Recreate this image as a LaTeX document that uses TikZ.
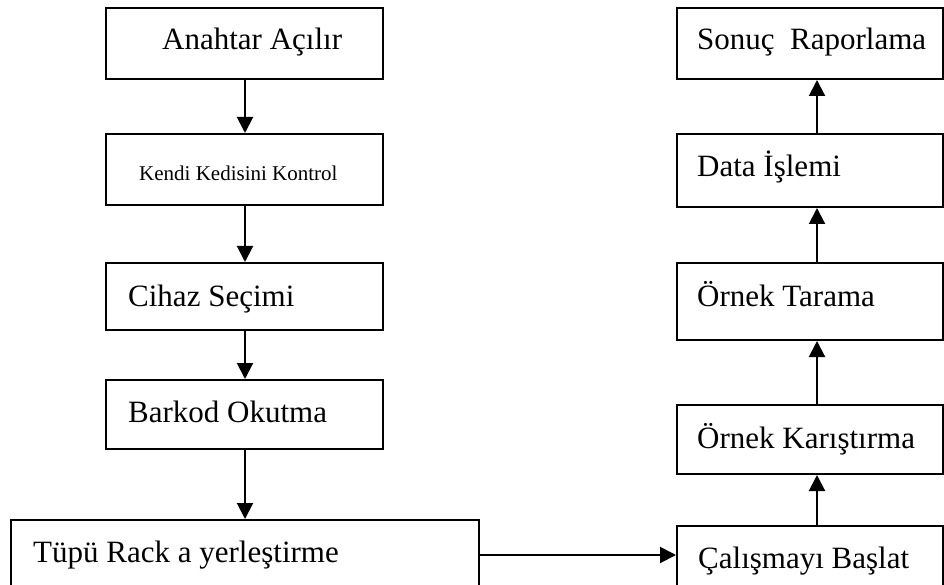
\documentclass[tikz,border=0pt]{standalone}
\usepackage{fontspec}
\setmainfont{Liberation Serif}
\usetikzlibrary{arrows.meta}
\begin{document}
\begin{tikzpicture}[x=1pt,y=-1pt,
  box/.style={draw=black, line width=2pt, rectangle, inner sep=0pt},
  lbl/.style={anchor=base west, inner sep=0pt, font=\fontsize{31}{36}\selectfont},
  small/.style={anchor=base west, inner sep=0pt, font=\fontsize{21}{25}\selectfont},
  flow/.style={line width=2pt, -{Triangle[length=16pt,width=16pt]}}]
\useasboundingbox (0,0) rectangle (944,585);
\clip (0,0) rectangle (944,585);
% left column boxes
\node[box, minimum width=277pt, minimum height=71pt] (b1) at (244.5,43.5) {};
\node[box, minimum width=277pt, minimum height=71pt] (b2) at (244.5,169.5) {};
\node[box, minimum width=277pt, minimum height=67pt] (b3) at (244.5,296.5) {};
\node[box, minimum width=277pt, minimum height=69pt] (b4) at (244.5,414.5) {};
\node[box, minimum width=468pt, minimum height=80pt] (b5) at (245,560) {};
% right column boxes
\node[box, minimum width=266pt, minimum height=71pt] (r1) at (810,43.5) {};
\node[box, minimum width=266pt, minimum height=73pt] (r2) at (810,170.5) {};
\node[box, minimum width=266pt, minimum height=77pt] (r3) at (810,301.5) {};
\node[box, minimum width=266pt, minimum height=69pt] (r4) at (810,439.5) {};
\node[box, minimum width=266pt, minimum height=74pt] (r5) at (810,563) {};
% texts
\node[lbl] (t1) at (162,50) {Anahtar Açılır};
\node[small] (t2) at (139,181) {Kendi Kedisini Kontrol};
\node[lbl] (t3) at (128,306) {Cihaz Seçimi};
\node[lbl] (t4) at (128,422) {Barkod Okutma};
\node[lbl] (t5) at (33,562) {Tüpü Rack a yerleştirme};
\node[lbl] (u1) at (697,50) {Sonuç\ \ Raporlama};
\node[lbl] (u2) at (697,177) {Data İşlemi};
\node[lbl] (u3) at (697,306) {Örnek Tarama};
\node[lbl] (u4) at (697,448) {Örnek Karıştırma};
\node[lbl] (u5) at (698,568) {Çalışmayı Başlat};
% connectors
\coordinate (lax) at (245,0);
\coordinate (rax) at (817,0);
\coordinate (hy) at (0,555);
\draw[flow] (b1.south -| lax) -- (b2.north -| lax);
\draw[flow] (b2.south -| lax) -- (b3.north -| lax);
\draw[flow] (b3.south -| lax) -- (b4.north -| lax);
\draw[flow] (b4.south -| lax) -- (b5.north -| lax);
\draw[flow] (b5.east |- hy) -- (r5.west |- hy);
\draw[flow] (r5.north -| rax) -- (r4.south -| rax);
\draw[flow] (r4.north -| rax) -- (r3.south -| rax);
\draw[flow] (r3.north -| rax) -- (r2.south -| rax);
\draw[flow] (r2.north -| rax) -- (r1.south -| rax);
\end{tikzpicture}
\end{document}
